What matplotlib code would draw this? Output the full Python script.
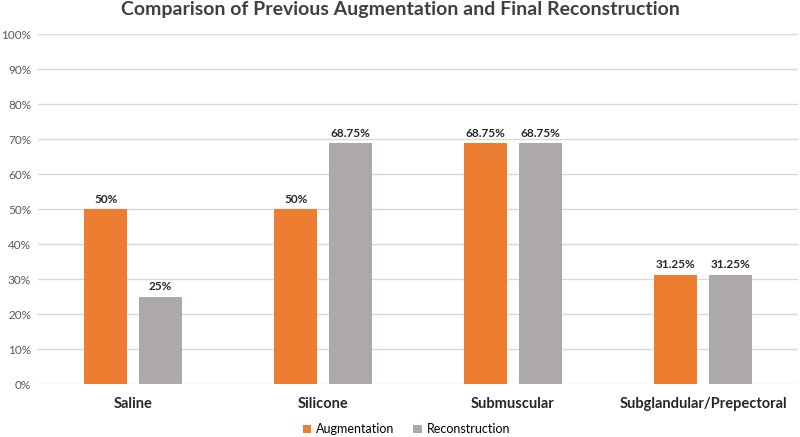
import numpy as np
from matplotlib import pyplot as plt
from matplotlib.ticker import FuncFormatter

plt.rcParams['font.family'] = ['Lato', 'DejaVu Sans']

categories = ["Saline", "Silicone", "Submuscular", "Subglandular/Prepectoral"]
augmentation = [50, 50, 68.75, 31.25]
reconstruction = [25, 68.75, 68.75, 31.25]
aug_labels = ["50%", "50%", "68.75%", "31.25%"]
rec_labels = ["25%", "68.75%", "68.75%", "31.25%"]

fig = plt.figure(figsize=(8, 4.37), dpi=100)
ax = fig.add_axes([0.0475, 0.121, 0.95, 0.801])

x = np.arange(len(categories))
w = 0.226
gap = 0.03
b1 = ax.bar(x - w/2 - gap, augmentation, w, color="#ED7D31", label="Augmentation", zorder=3)
b2 = ax.bar(x + w/2 + gap, reconstruction, w, color="#ADA9A8", label="Reconstruction", zorder=3)

for bars, labs in ((b1, aug_labels), (b2, rec_labels)):
    for b, t in zip(bars, labs):
        ax.text(b.get_x() + b.get_width()/2, b.get_height() + 1.3, t, ha="center", va="bottom",
                fontsize=8.5, fontweight="bold", color="#262626")

ax.set_xlim(-0.5, 3.5)
ax.set_ylim(0, 100)
ax.set_yticks(np.arange(0, 101, 10))
ax.yaxis.set_major_formatter(FuncFormatter(lambda v, p: "%d%%" % v))
ax.grid(axis="y", color="#D9D9D9", linewidth=1, zorder=0)
for s in ax.spines.values():
    s.set_visible(False)
ax.tick_params(axis="y", length=0, labelsize=8.5, labelcolor="#595959", pad=5)
ax.tick_params(axis="x", length=0, pad=9)
ax.set_xticks(x)
ax.set_xticklabels(categories, fontsize=10.5, fontweight="bold", color="#262626")

fig.suptitle("Comparison of Previous Augmentation and Final Reconstruction", y=0.997,
             fontsize=14, fontweight="bold", color="#404040")
ax.legend(loc="upper center", bbox_to_anchor=(0.485, -0.08), ncol=2, frameon=False,
          fontsize=9, handlelength=0.7, handleheight=0.7, columnspacing=1.5, handletextpad=0.4)

plt.savefig("out.png")
